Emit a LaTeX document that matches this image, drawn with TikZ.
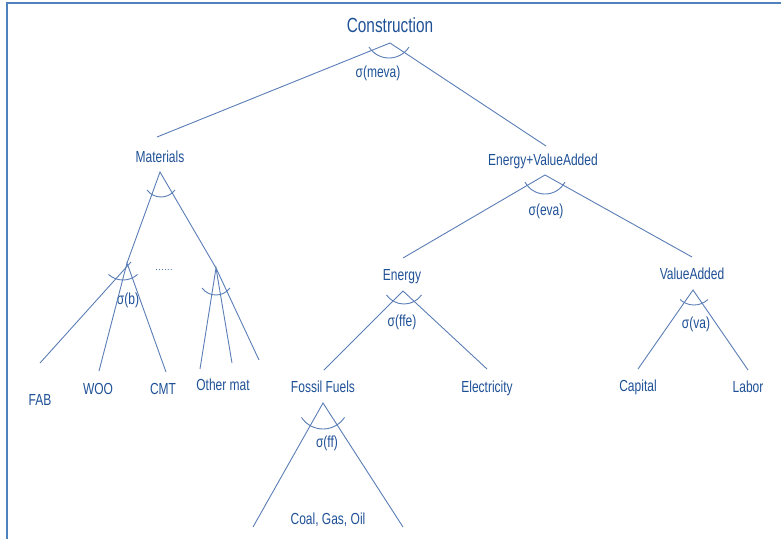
\documentclass[tikz,border=0pt]{standalone}
\usepackage{fontspec}
\newfontfamily\labfont[FakeStretch=0.75]{Liberation Sans}
\definecolor{txtblue}{HTML}{1F5196}
\definecolor{lnblue}{HTML}{5A7DB6}
\definecolor{frameblue}{HTML}{4F81BD}
\newcommand\selarc[4]{\draw[ln] (#1,#2) arc[start angle=270,end angle={270+#4},radius=#3pt] (#1,#2) arc[start angle=270,end angle={270-#4},radius=#3pt];}
\begin{document}
\begin{tikzpicture}[x=1pt,y=-1pt,
  lab/.style={text=txtblue,font=\labfont\fontsize{16}{18}\selectfont,anchor=base,inner sep=0pt},
  biglab/.style={lab,font=\labfont\fontsize{20.5}{24}\selectfont},
  ln/.style={draw=lnblue,line width=0.9pt},
  frame/.style={draw=frameblue,line width=2.2pt}]
\useasboundingbox (0,0) rectangle (781,539);
% frame
\draw[frame] (6.7,539) -- (6.7,2.7) -- (781,2.7);

% labels
\node[biglab] (cons) at (390,32) {Construction};
\node[lab] (smeva) at (378,77) {σ(meva)};
\node[lab] (mat) at (160,162) {Materials};
\node[lab] (eva) at (543,165) {Energy+ValueAdded};
\node[lab] (seva) at (546,215) {σ(eva)};
\node[lab] (sb) at (128,304) {σ(b)};
\node[text=txtblue,font=\fontsize{11}{12}\selectfont,anchor=base,inner sep=0pt] (dots) at (164,270) {......};
\node[lab] (fab) at (40,405) {FAB};
\node[lab] (woo) at (98,394) {WOO};
\node[lab] (cmt) at (163,394) {CMT};
\node[lab] (oth) at (223,390) {Other mat};
\node[lab] (ene) at (402,280) {Energy};
\node[lab] (sffe) at (402,326) {σ(ffe)};
\node[lab] (foss) at (323,392) {Fossil Fuels};
\node[lab] (elec) at (487,392) {Electricity};
\node[lab] (va) at (692,279) {ValueAdded};
\node[lab] (sva) at (696,328) {σ(va)};
\node[lab] (cap) at (638,391) {Capital};
\node[lab] (lab) at (748,392) {Labor};
\node[lab] (sff) at (327,447) {σ(ff)};
\node[lab] (cgo) at (328,524) {Coal, Gas, Oil};

% apex and end coordinates
\coordinate (a0) at (390,43);
\coordinate (aM) at (160,172);
\coordinate (aE) at (545,175);
\coordinate (aB) at (127,263);
\coordinate (aO) at (216,268);
\coordinate (aF) at (403,291);
\coordinate (aV) at (693,290);
\coordinate (aG) at (323,403);
\coordinate (eMat) at (157,137);
\coordinate (eEva) at (546,146);
\coordinate (eEne) at (403,258);
\coordinate (eVa) at (692,257);
\coordinate (eFab) at (40,363);
\coordinate (eWoo) at (99,371);
\coordinate (eCmt) at (166,372);
\coordinate (eO1) at (200,369);
\coordinate (eO2) at (232,363);
\coordinate (eO3) at (259,360);
\coordinate (eFoss) at (324,370);
\coordinate (eElec) at (487,369);
\coordinate (eCap) at (638,369);
\coordinate (eLab) at (748,370);
\coordinate (eG1) at (253,527);
\coordinate (eG2) at (403,527);

% connectors
\draw[ln] (eMat) -- (a0) -- (eEva);
\draw[ln] (aB) -- (aM) -- (aO);
\draw[ln] (eFab) -- (131,262);
\draw[ln] (eWoo) -- (aB) -- (eCmt);
\draw[ln] (eO1) -- (aO) -- (eO2);
\draw[ln] (aO) -- (eO3);
\draw[ln] (eEne) -- (aE) -- (eVa);
\draw[ln] (eFoss) -- (aF) -- (eElec);
\draw[ln] (eCap) -- (aV) -- (eLab);
\draw[ln] (eG1) -- (aG) -- (eG2);

% elasticity arcs
\selarc{389}{58}{23.7}{57.5}
\selarc{161}{197}{17.5}{53}
\selarc{123}{280}{21.8}{41.7}
\selarc{216}{295}{17.5}{53}
\selarc{545}{194}{22.7}{61.8}
\selarc{404}{304}{21.5}{54.5}
\selarc{694}{305}{20.5}{43}
\selarc{323}{429}{25.8}{56.5}
\end{tikzpicture}
\end{document}
